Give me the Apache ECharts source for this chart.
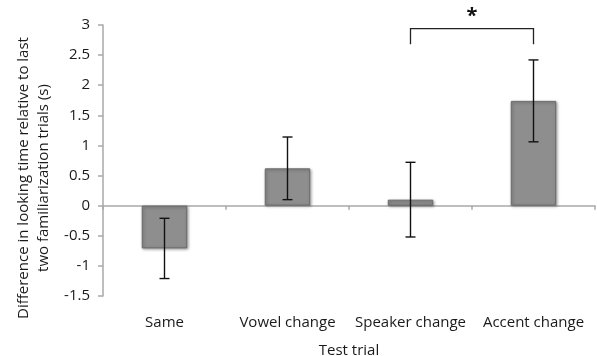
<!DOCTYPE html>
<html>
<head>
<meta charset="utf-8">
<script src="https://cdn.jsdelivr.net/npm/echarts@6/dist/echarts.min.js"></script>
<style>
  html, body { margin: 0; padding: 0; background: #fff; }
  #chart { width: 597px; height: 356px; }
</style>
</head>
<body>
<div id="chart"></div>
<script>
// Test-trial conditions and mean looking-time differences (s)
const categories = ['Same', 'Vowel change', 'Speaker change', 'Accent change'];
const meanDiff = [-0.71, 0.62, 0.10, 1.74];
// Half-width of the error bar for each condition
const errorHalf = [0.50, 0.52, 0.62, 0.68];
// Significance bracket between two conditions: [fromIndex, toIndex, topValue, legBottomValue]
const bracket = [2, 3, 2.94, 2.68];
const bracketLabel = '*';
const yTicks = { min: -1.5, max: 3, interval: 0.5 };

const font = '"Open Sans", "Liberation Sans", sans-serif';
const axisGray = '#a9a9a9';
const textColor = '#1a1a1a';
const fontSize = 15;

const errorData = meanDiff.map((v, i) => [i, v - errorHalf[i], v + errorHalf[i]]);

const chart = echarts.init(document.getElementById('chart'));
chart.setOption({
  animation: false,
  grid: { left: 103, right: 2, top: 25, bottom: 60, containLabel: false, outerBoundsMode: 'none' },
  xAxis: [
    {
      type: 'category', data: categories, position: 'bottom',
      axisLine: { show: false, onZero: false }, axisTick: { show: false },
      axisLabel: { color: textColor, fontFamily: font, fontSize: fontSize, margin: 19, interval: 0 },
      name: 'Test trial', nameLocation: 'middle', nameGap: 47,
      nameTextStyle: { color: textColor, fontFamily: font, fontSize: fontSize }
    },
    {
      type: 'category', data: categories, position: 'bottom',
      axisLine: { show: true, onZero: true, lineStyle: { color: axisGray, width: 1.5 } },
      axisTick: { show: true, length: 4, interval: 0, lineStyle: { color: axisGray, width: 1.5 } },
      axisLabel: { show: false }
    }
  ],
  yAxis: {
    type: 'value', min: yTicks.min, max: yTicks.max, interval: yTicks.interval,
    axisLine: { show: true, lineStyle: { color: axisGray, width: 1.5 } },
    axisTick: { show: true, length: 5, lineStyle: { color: axisGray, width: 1.5 } },
    splitLine: { show: false },
    axisLabel: { color: textColor, fontFamily: font, fontSize: fontSize, margin: 13 }
  },
  graphic: [{
    type: 'text', x: 34, y: 178, rotation: Math.PI / 2,
    style: {
      text: 'Difference in looking time relative to last\ntwo familiarization trials (s)',
      fill: textColor, font: fontSize + 'px ' + font, align: 'center', verticalAlign: 'middle',
      lineHeight: 20
    }
  }],
  series: [
    {
      type: 'bar', xAxisIndex: 0, data: meanDiff, barWidth: '37%',
      itemStyle: {
        color: '#8e8e8e', borderColor: '#6a6a6a', borderWidth: 1,
        shadowColor: 'rgba(0,0,0,0.35)', shadowBlur: 3, shadowOffsetX: 1, shadowOffsetY: 1
      }
    },
    {
      type: 'custom', xAxisIndex: 0, data: errorData, z: 10,
      renderItem: function (params, api) {
        const x = api.value(0);
        const lo = api.coord([x, api.value(1)]);
        const hi = api.coord([x, api.value(2)]);
        const cap = 5;
        const style = { stroke: '#111', lineWidth: 1.4 };
        return {
          type: 'group',
          children: [
            { type: 'line', shape: { x1: lo[0], y1: lo[1], x2: hi[0], y2: hi[1] }, style },
            { type: 'line', shape: { x1: lo[0] - cap, y1: lo[1], x2: lo[0] + cap, y2: lo[1] }, style },
            { type: 'line', shape: { x1: hi[0] - cap, y1: hi[1], x2: hi[0] + cap, y2: hi[1] }, style }
          ]
        };
      }
    },
    {
      type: 'custom', xAxisIndex: 0, data: [bracket], z: 10,
      renderItem: function (params, api) {
        const a = api.coord([api.value(0), api.value(2)]);
        const b = api.coord([api.value(1), api.value(2)]);
        const legY = api.coord([api.value(0), api.value(3)])[1];
        const style = { stroke: '#222', lineWidth: 1.3, fill: null };
        return {
          type: 'group',
          children: [
            { type: 'polyline', shape: { points: [[a[0], legY], [a[0], a[1]], [b[0], b[1]], [b[0], legY]] }, style },
            {
              type: 'text',
              style: {
                x: (a[0] + b[0]) / 2, y: a[1] - 2, text: bracketLabel,
                fill: '#111', font: 'bold 20px ' + font, textAlign: 'center', textVerticalAlign: 'bottom'
              }
            }
          ]
        };
      }
    }
  ]
});
</script>
</body>
</html>
